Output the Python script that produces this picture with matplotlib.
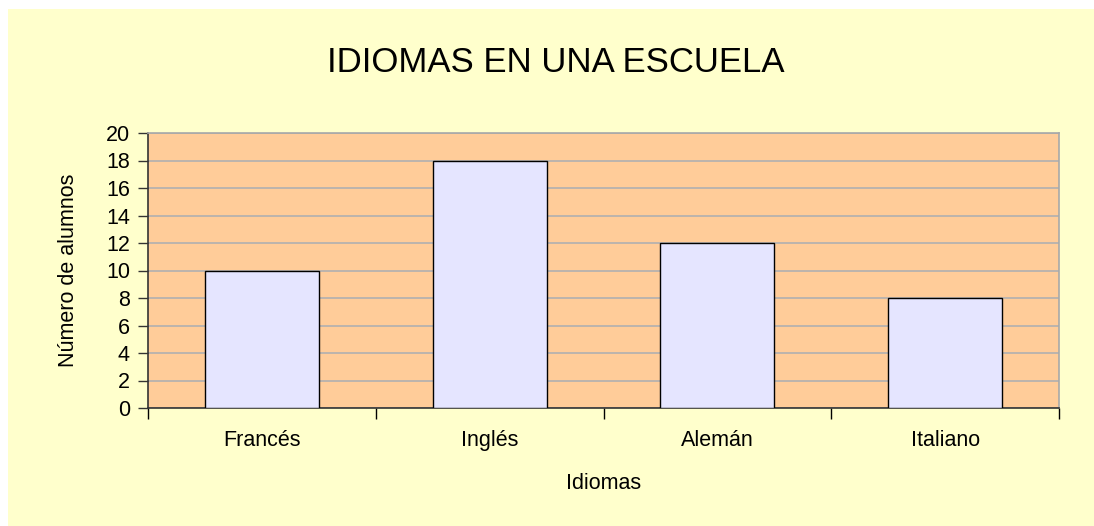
import matplotlib
matplotlib.use("Agg")
import matplotlib.pyplot as plt
from matplotlib.patches import Rectangle
import numpy as np

categories = ["Francés", "Inglés", "Alemán", "Italiano"]
values = [10, 18, 12, 8]
yticks = list(range(0, 21, 2))

plt.rcParams['font.family'] = ['Liberation Sans', 'DejaVu Sans']

W, H = 1094, 526
FS = 15.5
fig = plt.figure(figsize=(W / 100, H / 100), dpi=100)
fig.patch.set_facecolor("white")
fig.patches.append(Rectangle((8 / W, 0.5 / H), 1 - 8 / W, 1 - 9 / H - 0.5 / H,
                             transform=fig.transFigure, facecolor="#FFFFCC",
                             edgecolor="none", zorder=-10))

ax = fig.add_axes([148 / W, 1 - 408 / H, (1059 - 148) / W, (408 - 133) / H])
ax.set_zorder(5)
ax.set_facecolor("#FFCC99")
x = np.arange(len(categories))
ax.bar(x, values, width=0.5, color="#E5E5FF", edgecolor="black", linewidth=1, zorder=3)
ax.set_xlim(-0.5, len(categories) - 0.5)
ax.set_ylim(0, 20)
ax.set_yticks(yticks)
ax.set_yticklabels([str(t) for t in yticks], fontsize=FS)
ax.yaxis.grid(True, color="#B0B0B0", linewidth=1.2, zorder=1)
ax.set_axisbelow(True)

ax.set_xticks(np.arange(-0.5, len(categories), 1.0))
ax.set_xticklabels([])
ax.set_xticks(x, minor=True)
ax.set_xticklabels(categories, minor=True, fontsize=FS)
ax.tick_params(axis="x", which="major", length=8, width=1, color="black")
ax.tick_params(axis="x", which="minor", length=0, pad=15.5)
ax.tick_params(axis="y", length=7, width=1, color="#333333", pad=6)

for s in ["top", "right"]:
    ax.spines[s].set_color("#A8A8A8")
    ax.spines[s].set_linewidth(1.2)
for s in ["left", "bottom"]:
    ax.spines[s].set_color("#333333")
    ax.spines[s].set_linewidth(1.2)

ax.set_ylabel("Número de alumnos", fontsize=FS, labelpad=19)
ax.set_xlabel("Idiomas", fontsize=FS, labelpad=16)

fig.text(556 / W, 1 - 62 / H, "IDIOMAS EN UNA ESCUELA", fontsize=25,
         ha="center", va="center")

fig.savefig("out.png", dpi=100, facecolor=fig.get_facecolor())
